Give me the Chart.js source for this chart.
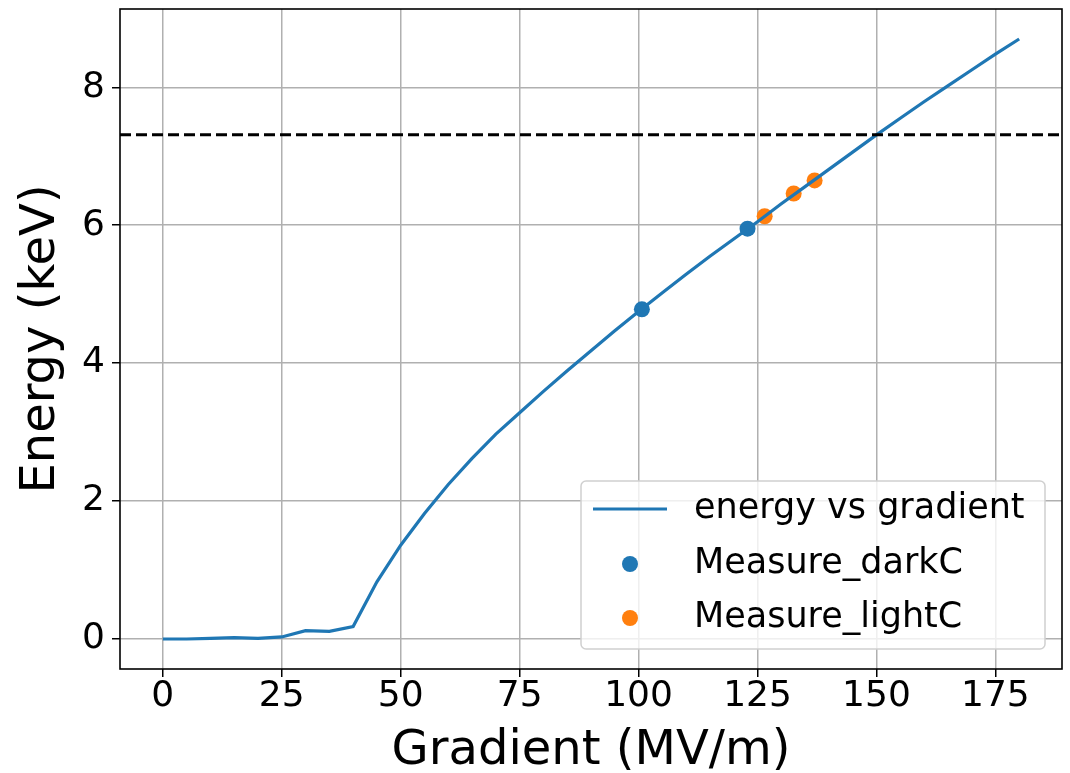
<!DOCTYPE html>
<html>
<head>
<meta charset="utf-8">
<script src="https://cdn.jsdelivr.net/npm/chart.js@4.4.1/dist/chart.umd.min.js"></script>
<style>
  html, body { margin: 0; padding: 0; background: #ffffff; }
  #wrap { width: 1070px; height: 773px; }
</style>
</head>
<body>
<div id="wrap"><canvas id="c" width="1070" height="773"></canvas></div>
<script>
// Simulated beam energy versus accelerating gradient
const gradient = [0, 5, 10, 15, 20, 25, 30, 35, 40, 45, 50, 55, 60, 65, 70, 75, 80, 85, 90,
  95, 100, 105, 110, 115, 120, 125, 130, 135, 140, 145, 150, 155, 160, 165, 170, 175, 180];
const energy = [0.00, 0.00, 0.01, 0.02, 0.01, 0.03, 0.12, 0.11, 0.18, 0.83, 1.36, 1.82, 2.24,
  2.62, 2.97, 3.28, 3.59, 3.89, 4.18, 4.47, 4.75, 5.02, 5.29, 5.55, 5.80, 6.05, 6.31, 6.56,
  6.81, 7.06, 7.31, 7.55, 7.79, 8.02, 8.25, 8.48, 8.70];

// Measured points
const darkGradient = [100.7, 122.9];
const darkEnergy = [4.78, 5.95];
const lightGradient = [126.5, 132.6, 137.0];
const lightEnergy = [6.13, 6.46, 6.65];

// Reference energy level
const thresholdEnergy = 7.31;

// Axis ticks and limits
const xTicks = [0, 25, 50, 75, 100, 125, 150, 175];
const yTicks = [0, 2, 4, 6, 8];
const xLimits = [-9, 189];
const yLimits = [-0.435, 9.135];

const BLUE = '#1f77b4';
const ORANGE = '#ff7f0e';
const FONT = "'DejaVu Sans', sans-serif";
const DOT_RADIUS = 8;

const toPoints = (xs, ys) => xs.map((x, i) => ({ x: x, y: ys[i] }));

// Frame around the plot area plus the dashed reference level
const framePlugin = {
  id: 'frame',
  afterDatasetsDraw(chart) {
    const { ctx, chartArea: a, scales } = chart;
    const yPix = scales.y.getPixelForValue(thresholdEnergy);
    ctx.save();
    ctx.beginPath();
    ctx.rect(a.left, a.top, a.right - a.left, a.bottom - a.top);
    ctx.clip();
    ctx.strokeStyle = '#000';
    ctx.lineWidth = 3;
    ctx.setLineDash([11, 5]);
    ctx.beginPath();
    ctx.moveTo(a.left, yPix);
    ctx.lineTo(a.right, yPix);
    ctx.stroke();
    ctx.restore();

    ctx.save();
    ctx.strokeStyle = '#000';
    ctx.lineWidth = 1.6;
    ctx.strokeRect(a.left, a.top, a.right - a.left, a.bottom - a.top);
    ctx.restore();
  }
};

// Legend box in the lower right of the plot area
const legendPlugin = {
  id: 'insideLegend',
  afterDraw(chart) {
    const { ctx, chartArea: a } = chart;
    const boxW = 464, boxH = 168;
    const bx = a.right - 17 - boxW;
    const by = a.bottom - 20 - boxH;
    ctx.save();
    ctx.beginPath();
    ctx.roundRect(bx, by, boxW, boxH, 5);
    ctx.fillStyle = 'rgba(255,255,255,0.8)';
    ctx.fill();
    ctx.strokeStyle = '#d0d0d0';
    ctx.lineWidth = 1.5;
    ctx.stroke();

    ctx.font = '35px ' + FONT;
    ctx.fillStyle = '#000';
    ctx.textBaseline = 'middle';
    ctx.textAlign = 'left';
    const rows = [by + 28, by + 83, by + 137];
    const textX = bx + 113;
    chart.data.datasets.forEach((ds, i) => {
      const cy = rows[i];
      if (ds.type === 'line') {
        ctx.strokeStyle = ds.borderColor;
        ctx.lineWidth = 3;
        ctx.beginPath();
        ctx.moveTo(bx + 12, cy);
        ctx.lineTo(bx + 86, cy);
        ctx.stroke();
      } else {
        ctx.fillStyle = ds.backgroundColor;
        ctx.beginPath();
        ctx.arc(bx + 49, cy, DOT_RADIUS, 0, Math.PI * 2);
        ctx.fill();
      }
      ctx.fillStyle = '#000';
      ctx.fillText(ds.label, textX, cy);
    });
    ctx.restore();
  }
};

const gridStyle = {
  color: '#b0b0b0',
  lineWidth: 1.5,
  tickColor: '#000',
  tickLength: 8,
  tickWidth: 1.5
};

new Chart(document.getElementById('c'), {
  data: {
    datasets: [
      {
        type: 'line',
        label: 'energy vs gradient',
        data: toPoints(gradient, energy),
        borderColor: BLUE,
        backgroundColor: BLUE,
        borderWidth: 3.2,
        pointRadius: 0,
        tension: 0,
        fill: false
      },
      {
        type: 'scatter',
        label: 'Measure_darkC',
        data: toPoints(darkGradient, darkEnergy),
        backgroundColor: BLUE,
        borderWidth: 0,
        pointRadius: DOT_RADIUS
      },
      {
        type: 'scatter',
        label: 'Measure_lightC',
        data: toPoints(lightGradient, lightEnergy),
        backgroundColor: ORANGE,
        borderWidth: 0,
        pointRadius: DOT_RADIUS
      }
    ]
  },
  options: {
    responsive: false,
    devicePixelRatio: 1,
    animation: false,
    layout: { padding: { top: 9, right: 6, left: 0, bottom: 0 } },
    plugins: {
      legend: { display: false },
      tooltip: { enabled: false }
    },
    scales: {
      x: {
        type: 'linear',
        min: xLimits[0],
        max: xLimits[1],
        afterBuildTicks: s => { s.ticks = xTicks.map(v => ({ value: v })); },
        afterFit: s => { s.height = 104; s.paddingLeft = 0; s.paddingRight = 0; },
        grid: gridStyle,
        border: { display: false },
        ticks: {
          color: '#000',
          font: { family: FONT, size: 36, lineHeight: 1 },
          padding: 2,
          maxRotation: 0,
          autoSkip: false
        },
        title: {
          display: true,
          text: 'Gradient (MV/m)',
          color: '#000',
          font: { family: FONT, size: 48, lineHeight: 1 },
          padding: { top: 0, bottom: -3 }
        }
      },
      y: {
        type: 'linear',
        min: yLimits[0],
        max: yLimits[1],
        afterBuildTicks: s => { s.ticks = yTicks.map(v => ({ value: v })); },
        afterFit: s => { s.width = 120; s.paddingTop = 0; s.paddingBottom = 0; },
        grid: gridStyle,
        border: { display: false },
        ticks: {
          color: '#000',
          font: { family: FONT, size: 36, lineHeight: 1 },
          padding: 7,
          autoSkip: false
        },
        title: {
          display: true,
          text: 'Energy (keV)',
          color: '#000',
          font: { family: FONT, size: 48, lineHeight: 1 },
          padding: { top: 18, bottom: 0 }
        }
      }
    }
  },
  plugins: [framePlugin, legendPlugin]
});
</script>
</body>
</html>
